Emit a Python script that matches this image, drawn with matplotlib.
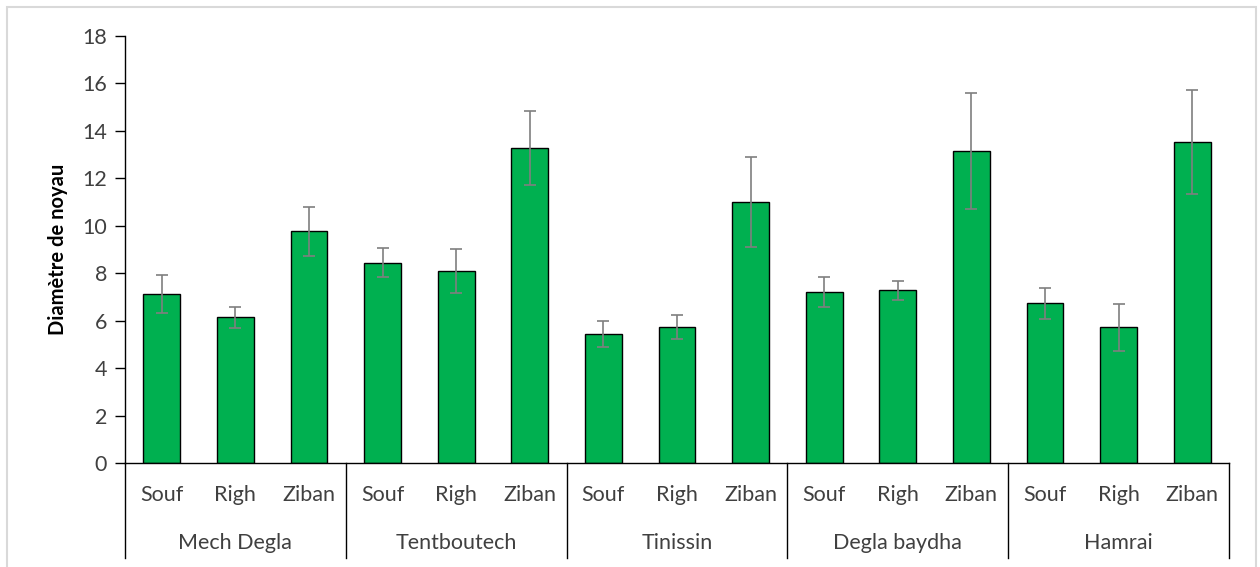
import matplotlib.pyplot as plt
from matplotlib.patches import Rectangle
from matplotlib.transforms import blended_transform_factory

# Core diameter by variety and region (mean and standard deviation)
varieties = ["Mech Degla", "Tentboutech", "Tinissin", "Degla baydha", "Hamrai"]
regions = ["Souf", "Righ", "Ziban"]
means = [7.11, 6.14, 9.76,
         8.45, 8.09, 13.27,
         5.44, 5.72, 10.99,
         7.21, 7.28, 13.15,
         6.73, 5.72, 13.53]
errors = [0.80, 0.43, 1.03,
          0.63, 0.92, 1.56,
          0.55, 0.50, 1.90,
          0.62, 0.40, 2.43,
          0.65, 0.98, 2.20]

W, H = 1260, 567
text_color = "#404040"
plt.rcParams['font.family'] = ['Lato', 'DejaVu Sans']

fig = plt.figure(figsize=(W / 100, H / 100), dpi=100)
fig.patches.append(Rectangle((7 / W, -0.05), (1256 - 7) / W, 1.05 - 7 / H,
                             transform=fig.transFigure, fill=False,
                             edgecolor="#d9d9d9", linewidth=1.5))

ax = fig.add_axes([125 / W, (H - 463) / H, 1104 / W, (463 - 36) / H])

x = list(range(len(means)))
ax.bar(x, means, width=0.5, color="#00b050", edgecolor="black", linewidth=1,
       zorder=2)
ax.errorbar(x, means, yerr=errors, fmt="none", ecolor="#7f7f7f",
            elinewidth=1.2, capsize=4, capthick=1.2, zorder=3)

ax.set_xlim(-0.5, len(means) - 0.5)
ax.set_ylim(0, 18)
ax.set_yticks(range(0, 19, 2))
ax.tick_params(axis="y", direction="out", length=7, width=1, color="black",
               labelsize=15.5, labelcolor=text_color, pad=6)
ax.set_xticks(x)
ax.set_xticklabels(regions * len(varieties))
ax.tick_params(axis="x", length=0, labelsize=15.5, labelcolor=text_color,
               pad=16)

for side in ["top", "right"]:
    ax.spines[side].set_visible(False)
ax.spines["left"].set_linewidth(1)
ax.spines["bottom"].set_linewidth(1)

ax.set_ylabel("Diamètre de noyau", fontsize=14.5, fontweight="bold",
              color="black", labelpad=10)

# group labels and separators below the category axis
trans = blended_transform_factory(ax.transData, ax.transAxes)
bottom = -(558 - 463) / (463 - 36)
for i, name in enumerate(varieties):
    ax.text(3 * i + 1, -(543 - 463) / (463 - 36), name, transform=trans,
            ha="center", va="center", fontsize=15.5, color=text_color)
for b in range(len(varieties) + 1):
    ax.plot([3 * b - 0.5, 3 * b - 0.5], [0, bottom], transform=trans,
            color="black", linewidth=1, clip_on=False)

fig.savefig("out.png", dpi=100)
